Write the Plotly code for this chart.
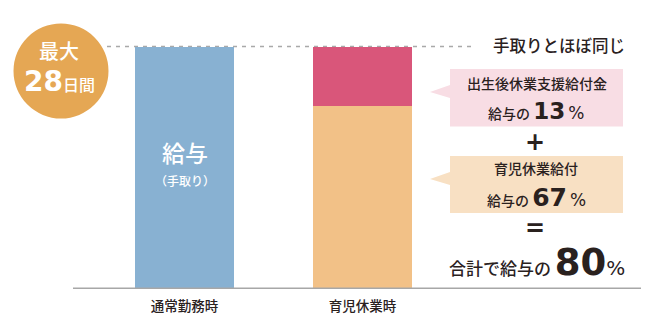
import plotly.graph_objects as go

# ---- data ----
categories = ["通常勤務時", "育児休業時"]
normal_pay = [100]            # 給与（手取り） bar height
childcare_benefit = [75.7]    # 育児休業給付 segment (visual height)
postbirth_benefit = [24.3]    # 出生後休業支援給付金 segment (visual height)
pct_postbirth = "13"
pct_childcare = "67"
pct_total = "80"

W, H = 668, 324
PB = 36
PH = H - PB
PX_PER_UNIT = 2.41
CAT_STEP = 178.0
CAT0 = 184.5

def px(x):
    return x / W

def py(y):
    return (PH - y) / PH

JP = "Noto Sans CJK JP Medium, Noto Sans CJK JP"
NUM = "DejaVu Sans"
DARK = "#2a211e"

fig = go.Figure()
fig.add_trace(go.Bar(x=[categories[0]], y=normal_pay, width=[99 / CAT_STEP],
                     marker=dict(color="#88b1d2", line=dict(width=0)),
                     hoverinfo="skip"))
fig.add_trace(go.Bar(x=[categories[1]], y=childcare_benefit, width=[99 / CAT_STEP],
                     marker=dict(color="#f2c187", line=dict(width=0)),
                     hoverinfo="skip"))
fig.add_trace(go.Bar(x=[categories[1]], y=postbirth_benefit, width=[99 / CAT_STEP],
                     marker=dict(color="#d9567a", line=dict(width=0)),
                     hoverinfo="skip"))

shapes = []
# dashed reference line
shapes.append(dict(type="line", xref="paper", yref="paper", x0=px(107), x1=px(474),
                   y0=py(46.5), y1=py(46.5), layer="below",
                   line=dict(color="#a9a9a9", width=1.3, dash="4px,5px")))
# baseline
shapes.append(dict(type="line", xref="paper", yref="paper", x0=px(73), x1=px(641),
                   y0=py(288.3), y1=py(288.3), layer="above",
                   line=dict(color="#a7a7a7", width=1.6)))
# badge circle
shapes.append(dict(type="circle", xref="paper", yref="paper",
                   x0=px(13.5), x1=px(108.5), y0=py(118.5), y1=py(23.5),
                   fillcolor="#e5a754", line=dict(width=0)))

def callout(top, bottom, tip_y, color):
    l, r, tip_x = 450, 623, 430
    pts = [(l, top), (r, top), (r, bottom), (l, bottom), (l, tip_y + 6),
           (tip_x, tip_y), (l, tip_y - 7)]
    d = "M " + " L ".join(f"{px(a):.5f},{py(b):.5f}" for a, b in pts) + " Z"
    return dict(type="path", xref="paper", yref="paper", path=d,
                fillcolor=color, line=dict(width=0), layer="below")

shapes.append(callout(69, 126.5, 92, "#f8dde4"))
shapes.append(callout(156, 213, 179, "#f8e0c3"))

ann = []
def A(x, y, text, size, color=DARK, family=JP, xanchor="center"):
    ann.append(dict(xref="paper", yref="paper", x=px(x), y=py(y), text=text,
                    showarrow=False, xanchor=xanchor, yanchor="middle",
                    font=dict(size=size, color=color, family=family)))

# badge
A(59, 50, "最大", 20, "white")
A(59.5, 81, f"<span style='font-family:{NUM};font-size:28px'><b>28</b></span>"
            f"<span style='font-size:16px'>日間</span>", 16, "white")
# bar label
A(184.5, 152, "<b>給与</b>", 23, "white")
A(184.5, 180, "（手取り）", 12, "white")
# right side texts
A(559, 45, "手取りとほぼ同じ", 16.5)
A(537, 83, "出生後休業支援給付金", 14)
A(536, 111, f"給与の <span style='font-family:{NUM};font-size:23px'><b>{pct_postbirth}</b></span>"
            f" <span style='font-family:{NUM};font-size:17px'>%</span>", 14)
A(535, 142, "<b>+</b>", 24, family=NUM)
A(536, 168, "育児休業給付", 14)
A(536, 197, f"給与の <span style='font-family:{NUM};font-size:25px'><b>{pct_childcare}</b></span>"
            f" <span style='font-family:{NUM};font-size:17px'>%</span>", 14)
A(535, 228, "<b>=</b>", 24, family=NUM)
A(537, 262, f"合計で給与の <span style='font-family:{NUM};font-size:37px'><b>{pct_total}</b></span>"
            f"<span style='font-family:{NUM};font-size:20px'>%</span>", 17)

fig.update_layout(
    width=W, height=H,
    margin=dict(l=0, r=0, t=0, b=PB),
    paper_bgcolor="white", plot_bgcolor="white",
    barmode="stack", showlegend=False,
    shapes=shapes, annotations=ann,
    xaxis=dict(type="category", categoryorder="array", categoryarray=categories,
               range=[-CAT0 / CAT_STEP, (W - CAT0) / CAT_STEP],
               showgrid=False, zeroline=False, showline=False,
               ticks="outside", ticklen=6, tickcolor="rgba(0,0,0,0)",
               tickfont=dict(family=JP, size=13.5, color=DARK),
               automargin=False, fixedrange=True),
    yaxis=dict(range=[0, PH / PX_PER_UNIT], visible=False, fixedrange=True),
)

fig.write_html("out.html", config={"displayModeBar": False})
